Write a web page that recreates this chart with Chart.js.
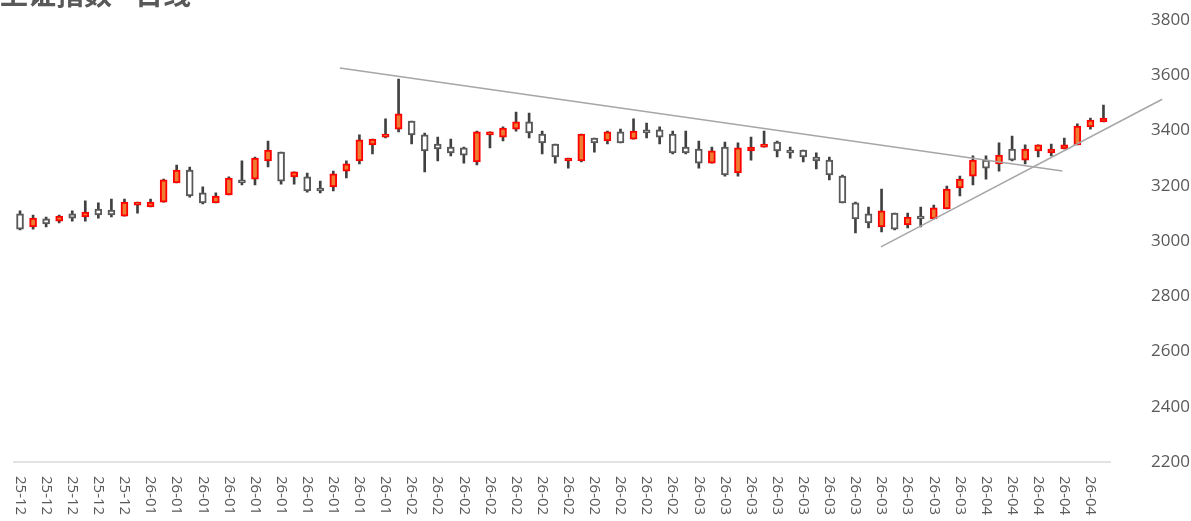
<!DOCTYPE html>
<html>
<head>
<meta charset="utf-8">
<script src="https://cdn.jsdelivr.net/npm/chart.js@4/dist/chart.umd.min.js"></script>
<style>
  html, body { margin: 0; padding: 0; background: #fff; overflow: hidden; }
  #wrap { width: 1191px; height: 521px; position: relative; }
</style>
</head>
<body>
<div id="wrap"><canvas id="kline"></canvas></div>
<script>
const titleText = '上证指数 - 日线';

const dates = [
  '25-12','25-12','25-12','25-12','25-12','25-12','25-12','25-12','25-12','25-12',
  '26-01','26-01','26-01','26-01','26-01','26-01','26-01','26-01','26-01','26-01',
  '26-01','26-01','26-01','26-01','26-01','26-01','26-01','26-01','26-01','26-01',
  '26-02','26-02','26-02','26-02','26-02','26-02','26-02','26-02','26-02','26-02','26-02',
  '26-02','26-02','26-02','26-02','26-02','26-02','26-02','26-02','26-02','26-02','26-02',
  '26-03','26-03','26-03','26-03','26-03','26-03','26-03','26-03','26-03','26-03','26-03',
  '26-03','26-03','26-03','26-03','26-03','26-03','26-03','26-03','26-03','26-03','26-03',
  '26-04','26-04','26-04','26-04','26-04','26-04','26-04','26-04','26-04','26-04'
];

const openV = [
  3098, 3051, 3080, 3072, 3098, 3087, 3116, 3112, 3090, 3130,
  3123, 3141, 3210, 3257, 3174, 3138, 3167, 3221, 3224, 3290,
  3322, 3232, 3232, 3192, 3196, 3253, 3290, 3348, 3376, 3405,
  3434, 3384, 3351, 3340, 3337, 3286, 3384, 3376, 3405, 3431,
  3387, 3351, 3290, 3290, 3373, 3362, 3395, 3369, 3402, 3402,
  3387, 3340, 3333, 3282, 3340, 3246, 3326, 3340, 3358, 3329,
  3329, 3304, 3293, 3235, 3138, 3098, 3051, 3101, 3058, 3090,
  3080, 3116, 3192, 3235, 3293, 3279, 3333, 3293, 3326, 3319,
  3333, 3348, 3413, 3431
];
const highV = [
  3109, 3094, 3087, 3094, 3109, 3145, 3138, 3152, 3152, 3141,
  3152, 3224, 3275, 3268, 3196, 3174, 3232, 3290, 3304, 3362,
  3322, 3250, 3246, 3217, 3253, 3290, 3384, 3369, 3442, 3586,
  3434, 3391, 3376, 3369, 3340, 3398, 3395, 3413, 3467, 3463,
  3398, 3351, 3300, 3387, 3373, 3398, 3405, 3442, 3427, 3413,
  3398, 3398, 3362, 3340, 3358, 3355, 3376, 3398, 3362, 3340,
  3329, 3319, 3304, 3239, 3141, 3123, 3188, 3101, 3101, 3123,
  3130, 3199, 3235, 3308, 3308, 3355, 3380, 3348, 3348, 3351,
  3373, 3424, 3445, 3492
];
const lowV = [
  3040, 3043, 3051, 3065, 3072, 3072, 3083, 3087, 3090, 3101,
  3123, 3141, 3210, 3159, 3134, 3138, 3167, 3203, 3203, 3268,
  3206, 3206, 3177, 3174, 3181, 3228, 3279, 3315, 3373, 3395,
  3351, 3250, 3290, 3308, 3282, 3275, 3337, 3362, 3398, 3373,
  3315, 3282, 3264, 3286, 3322, 3351, 3355, 3369, 3373, 3351,
  3315, 3315, 3264, 3282, 3235, 3235, 3293, 3340, 3304, 3300,
  3286, 3261, 3221, 3138, 3029, 3047, 3033, 3040, 3047, 3051,
  3080, 3116, 3163, 3203, 3224, 3253, 3290, 3279, 3304, 3308,
  3333, 3348, 3405, 3431
];
const closeV = [
  3043, 3083, 3062, 3090, 3083, 3105, 3094, 3094, 3141, 3141,
  3141, 3221, 3257, 3163, 3138, 3163, 3228, 3210, 3300, 3329,
  3217, 3250, 3181, 3181, 3243, 3279, 3366, 3369, 3387, 3460,
  3384, 3326, 3333, 3319, 3311, 3395, 3395, 3409, 3431, 3391,
  3355, 3304, 3300, 3387, 3355, 3395, 3355, 3398, 3391, 3376,
  3319, 3319, 3282, 3326, 3239, 3337, 3340, 3351, 3326, 3319,
  3304, 3290, 3239, 3138, 3080, 3065, 3109, 3043, 3087, 3080,
  3120, 3188, 3224, 3293, 3264, 3311, 3293, 3333, 3348, 3333,
  3348, 3416, 3438, 3445
];

// trend lines drawn by hand on the original: [candle index, price]
const resistLine = [[24.5, 3626], [79.85, 3253]];
const supportLine = [[65.95, 2979], [87.5, 3513]];

const yMin = 2200, yMax = 3800, yStep = 200;

const isUp = i => closeV[i] > openV[i];

const bodyData = openV.map((o, i) => [o, closeV[i]]);
const wickData = lowV.map((l, i) => [l, highV[i]]);

const textGray = '#595959';

// date labels read downward (rotated clockwise), every second candle
const xLabelPlugin = {
  id: 'xLabels',
  afterDraw(chart) {
    const ctx = chart.ctx;
    const xs = chart.scales.x;
    ctx.save();
    ctx.fillStyle = textGray;
    ctx.font = '15px "Open Sans", sans-serif';
    ctx.textAlign = 'left';
    ctx.textBaseline = 'middle';
    for (let i = 0; i < dates.length; i += 2) {
      const px = xs.getPixelForValue(i);
      ctx.save();
      ctx.translate(px, xs.top + 14);
      ctx.rotate(Math.PI / 2);
      ctx.fillText(dates[i], 0, 0);
      ctx.restore();
    }
    ctx.restore();
  }
};

// title sits half outside the top of the picture
const titlePlugin = {
  id: 'cutTitle',
  afterDraw(chart) {
    const ctx = chart.ctx;
    ctx.save();
    ctx.fillStyle = textGray;
    ctx.font = 'bold 28px "Noto Sans CJK SC", sans-serif';
    ctx.textAlign = 'left';
    ctx.textBaseline = 'alphabetic';
    ctx.fillText(titleText, 0, 5);
    ctx.restore();
  }
};

const lineSet = pts => ({
  type: 'line',
  xAxisID: 'x2',
  data: pts.map(p => ({ x: p[0], y: p[1] })),
  borderColor: '#A6A6A6',
  borderWidth: 1.5,
  pointRadius: 0,
  fill: false,
  clip: false,
  order: 0
});

new Chart(document.getElementById('kline'), {
  type: 'bar',
  data: {
    labels: dates,
    datasets: [
      {
        label: 'body',
        data: bodyData,
        grouped: false,
        barThickness: 7,
        borderWidth: 2,
        borderSkipped: false,
        backgroundColor: c => isUp(c.dataIndex) ? '#ED7D31' : '#FFFFFF',
        borderColor: c => isUp(c.dataIndex) ? '#FF0000' : '#595959',
        order: 1
      },
      {
        label: 'wick',
        data: wickData,
        grouped: false,
        barThickness: 2,
        backgroundColor: '#404040',
        borderWidth: 0,
        order: 2
      },
      lineSet(resistLine),
      lineSet(supportLine)
    ]
  },
  options: {
    responsive: true,
    maintainAspectRatio: false,
    animation: false,
    layout: { padding: { left: 13.5, top: 20, right: 1, bottom: 0 } },
    plugins: {
      legend: { display: false },
      tooltip: { enabled: false },
      title: { display: false }
    },
    scales: {
      x: {
        type: 'category',
        offset: true,
        grid: { display: false, drawTicks: false },
        border: { display: true, color: '#E3E3E3', width: 2 },
        ticks: { display: false },
        afterFit: s => { s.height = 59; }
      },
      x2: {
        type: 'linear',
        display: false,
        offset: false,
        position: 'bottom',
        min: -0.5,
        max: dates.length - 0.5
      },
      y: {
        type: 'linear',
        position: 'right',
        min: yMin,
        max: yMax,
        grid: { display: false, drawTicks: false },
        border: { display: false },
        ticks: {
          stepSize: yStep,
          color: textGray,
          padding: 0,
          crossAlign: 'far',
          font: { family: '"Open Sans", sans-serif', size: 17 },
          callback: v => String(v)
        },
        afterFit: s => { s.width = 80; }
      }
    }
  },
  plugins: [xLabelPlugin, titlePlugin]
});
</script>
</body>
</html>
